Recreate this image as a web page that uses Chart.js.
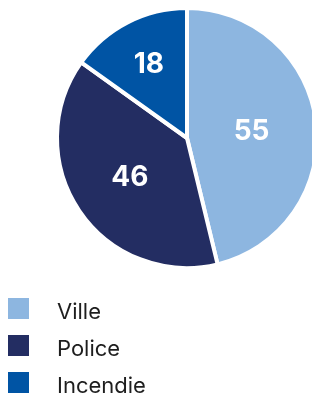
<!DOCTYPE html>
<html><head><meta charset="utf-8">
<script src="https://cdn.jsdelivr.net/npm/chart.js@4"></script>
<style>
html,body{margin:0;padding:0;background:#fff;width:312px;height:394px;overflow:hidden;}
#wrap{position:absolute;left:0;top:0;width:320px;height:394px;}
#legend{position:absolute;left:8px;top:298px;font-family:Inter,Roboto,sans-serif;font-size:22px;color:#1e1e1e;}
.item{position:relative;height:37px;}
.sw{position:absolute;left:0;top:0;width:21px;height:21px;}
.lb{position:absolute;left:49px;top:0px;line-height:26px;white-space:nowrap;}
</style></head>
<body>
<div id="wrap"><canvas id="c" width="320" height="394"></canvas></div>
<div id="legend"></div>
<script>
const categories = ["Ville", "Police", "Incendie"];
const values = [55, 46, 18];
const colors = ["#8DB6E0", "#232D62", "#0054A4"];
const labelRadius = [0.50, 0.53, 0.64];

const valueLabels = {
  id: 'valueLabels',
  afterDatasetsDraw(chart) {
    const ctx = chart.ctx;
    const meta = chart.getDatasetMeta(0);
    ctx.save();
    ctx.fillStyle = '#fff';
    ctx.font = 'bold 28px Inter, Roboto, sans-serif';
    ctx.textAlign = 'center';
    ctx.textBaseline = 'middle';
    meta.data.forEach((arc, i) => {
      const p = arc.getProps(['x','y','startAngle','endAngle','outerRadius'], true);
      const mid = (p.startAngle + p.endAngle) / 2;
      const r = p.outerRadius * labelRadius[i];
      ctx.fillText(String(values[i]), p.x + Math.cos(mid) * r, p.y + Math.sin(mid) * r + 1);
    });
    ctx.restore();
  }
};

new Chart(document.getElementById('c'), {
  type: 'pie',
  data: { labels: categories, datasets: [{ data: values, backgroundColor: colors, borderColor: '#fff', borderWidth: 4 }] },
  options: {
    responsive: false, animation: false,
    layout: { padding: { left: 55, right: 1, top: 6, bottom: 124 } },
    plugins: { legend: { display: false }, tooltip: { enabled: false } }
  },
  plugins: [valueLabels]
});

const lg = document.getElementById('legend');
categories.forEach((c, i) => {
  const d = document.createElement('div'); d.className = 'item';
  d.innerHTML = '<span class="sw" style="background:' + colors[i] + '"></span><span class="lb">' + c + '</span>';
  lg.appendChild(d);
});
</script>
</body></html>
